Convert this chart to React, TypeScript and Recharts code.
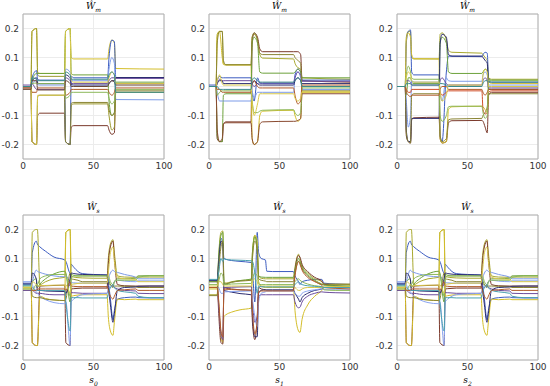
import { LineChart, Line, XAxis, YAxis, CartesianGrid, ReferenceArea } from 'recharts'

const xTicks = [0, 50, 100]
const yTicks = [-0.2, -0.1, 0, 0.1, 0.2]

// x breakpoints per panel
const xWm0 = [0, 5.6, 6.4, 9.6, 10.4, 12, 29.4, 30.2, 33.4, 34.2, 36, 60, 61, 63, 64.8, 65.8, 100]
const xWm1 = [0, 5, 5.8, 7.5, 9.4, 10.2, 12, 29.8, 30.6, 32, 34.4, 36, 38, 60, 61, 63, 65, 66, 100]
const xWm2 = [0, 5.8, 6.6, 8, 9.6, 10.4, 12, 29.8, 30.6, 32, 35, 36.5, 39, 60.2, 61, 62.5, 64, 65, 67, 100]
const xWs0 = [0, 5.8, 6.6, 9.4, 10.2, 12, 16, 22, 29.6, 30.4, 33.4, 34.2, 36, 39, 42, 50, 59.6, 60.5, 62, 63.8, 64.8, 67, 72, 80, 81.5, 90, 100]
const xWs1 = [0, 5.8, 6.8, 8.5, 9.8, 10.6, 12, 16, 22, 30, 30.8, 32.5, 34.2, 35.2, 37, 40, 41, 45, 59.8, 61, 63.5, 64.5, 66, 70, 75, 80, 81.5, 90, 100]

const wm0 = [
  [0, 0, 0.19, 0.2, 0.05, 0.045, 0.045, 0.19, 0.2, 0.1, 0.095, 0.095, 0.13, 0.16, 0.15, 0.062, 0.06],
  [-0.005, -0.005, -0.19, -0.2, -0.1, -0.092, -0.092, -0.19, -0.2, -0.14, -0.135, -0.135, -0.15, -0.165, -0.16, 0.01, 0.01],
  [0, 0, 0.19, 0.2, 0.04, 0.035, 0.035, -0.19, -0.2, -0.065, -0.06, -0.06, -0.1, -0.15, -0.14, -0.02, -0.02],
  [0, 0, 0.03, 0.055, 0.025, 0.022, 0.022, -0.19, -0.2, 0.035, 0.03, 0.03, 0.1, 0.16, 0.155, 0.03, 0.03],
  [0, 0, 0.02, 0.045, 0.045, 0.045, 0.045, 0.19, 0.2, 0.045, 0.04, 0.04, -0.05, -0.1, -0.09, 0.015, 0.015],
  [0, 0, 0.01, 0.02, 0.006, 0.005, 0.005, 0.06, 0.05, 0.02, 0.02, 0.02, 0.06, 0.1, 0.08, -0.045, -0.046],
  [0.005, 0.005, 0.01, -0.01, -0.01, -0.01, -0.01, 0.03, 0.02, 0.01, 0.01, 0.01, 0.02, 0.03, 0.03, 0.028, 0.028],
  [0, 0, 0.02, 0.03, 0.012, 0.01, 0.01, 0.04, 0.03, 0.006, 0.005, 0.005, 0.01, 0.02, 0.02, 0.031, 0.031],
  [-0.005, -0.005, -0.02, -0.02, -0.005, -0.005, -0.005, -0.03, -0.02, -0.01, -0.01, -0.01, -0.02, -0.03, -0.02, -0.005, -0.005],
  [0, 0, -0.19, -0.2, -0.035, -0.03, -0.03, -0.19, -0.2, -0.058, -0.055, -0.055, -0.08, -0.1, -0.09, -0.015, -0.015],
  [0, 0, -0.19, -0.2, -0.03, -0.03, -0.03, 0.19, 0.2, 0.02, 0.015, 0.015, 0.03, 0.05, 0.04, 0.01, 0.01],
  [0, 0, 0.01, 0.012, 0.01, 0.01, 0.01, -0.04, -0.03, -0.02, -0.02, -0.02, -0.04, -0.06, -0.05, -0.01, -0.01],
  [-0.01, -0.01, 0.02, 0.02, -0.012, -0.012, -0.012, 0.02, 0.01, 0, 0, 0, 0.01, 0.02, 0.015, 0.005, 0.005],
  [0, 0, 0.03, 0.025, 0.02, 0.02, 0.02, 0.05, 0.04, 0.025, 0.025, 0.025, 0.04, 0.05, 0.04, -0.02, -0.02],
]
const wm0Colors = ['#d4be2a', '#7b3a2c', '#9c9a2e', '#3c5cc0', '#6da23c', '#7d9be8', '#6c4d9c', '#2c2c70', '#b05a2a', '#8a8434', '#d8c84a', '#8cb85a', '#6a4a3a', '#3a8a8a']

const wm1 = [
  [0, 0, 0.18, 0.19, 0.19, 0.08, 0.075, 0.075, 0.17, 0.18, 0.16, 0.11, 0.098, 0.095, 0.08, 0.065, 0.06, 0.03, 0.025],
  [0, 0, -0.18, -0.19, -0.19, -0.13, -0.122, -0.122, 0.15, 0.185, 0.17, 0.13, 0.12, 0.12, 0.12, 0.12, 0.11, 0.02, 0.015],
  [0, 0, 0.17, 0.19, 0.1, 0.076, 0.074, 0.074, -0.18, -0.2, -0.19, -0.1, -0.085, -0.082, -0.1, -0.12, -0.11, -0.02, -0.02],
  [0.005, 0.005, 0.02, 0.035, 0.03, 0.03, 0.03, 0.03, -0.02, -0.05, 0.03, 0.012, 0.01, 0.01, 0.04, 0.06, 0.05, 0.022, 0.022],
  [0, 0, -0.17, -0.19, -0.19, -0.03, -0.025, -0.025, 0.15, 0.17, 0.15, 0.05, 0.046, 0.046, 0.05, 0.06, 0.05, 0.03, 0.03],
  [0, 0, -0.02, -0.05, -0.05, -0.05, -0.05, -0.05, -0.02, -0.04, -0.02, -0.02, -0.02, -0.02, 0.03, 0.05, 0.03, -0.01, -0.01],
  [0, 0, 0.01, 0.025, 0.02, 0.02, 0.02, 0.02, 0.01, 0, 0.01, 0.012, 0.012, 0.012, 0.03, 0.05, 0.04, 0.018, 0.018],
  [0, 0, 0.01, 0.02, 0.02, 0.01, 0.01, 0.01, 0.01, 0.02, 0.01, 0.005, 0.005, 0.005, 0.02, 0.03, 0.02, 0.01, 0.01],
  [0, 0, -0.15, -0.19, -0.18, -0.13, -0.125, -0.125, -0.18, -0.2, -0.19, -0.13, -0.122, -0.12, -0.12, -0.117, -0.11, -0.025, -0.025],
  [0, 0, 0.15, 0.19, 0.19, 0.09, 0.075, 0.075, 0.17, 0.185, 0.16, 0.115, 0.11, 0.11, 0.1, 0.09, 0.08, -0.015, -0.015],
  [0, 0, -0.03, -0.02, -0.015, -0.015, -0.015, -0.015, -0.05, -0.09, -0.09, -0.085, -0.082, -0.08, -0.09, -0.1, -0.09, -0.005, -0.005],
  [0, 0, -0.01, -0.01, -0.02, -0.02, -0.02, -0.02, 0.01, 0.02, 0, -0.005, -0.005, -0.005, -0.03, -0.06, -0.05, 0.005, 0.005],
  [0, 0, 0.02, 0.04, 0.01, 0.005, 0.005, 0.005, -0.05, -0.1, -0.06, -0.025, -0.025, -0.025, -0.04, -0.05, -0.04, -0.018, -0.018],
  [0, 0, 0, -0.01, -0.01, -0.01, -0.01, -0.01, 0.02, 0.03, 0.02, 0.015, 0.015, 0.015, 0.02, 0.03, 0.02, 0, 0],
]
const wm1Colors = ['#a8a82e', '#7b3a2c', '#d4be2a', '#3c5cc0', '#6da23c', '#7d9be8', '#6c4d9c', '#2c2c70', '#8a4a30', '#8a8434', '#8cb85a', '#b05a2a', '#d8c84a', '#3a8a8a']

const wm2 = [
  [0, 0, 0.17, 0.19, 0.19, 0.1, 0.095, 0.095, 0.18, 0.185, 0.16, 0.125, 0.118, 0.115, 0.11, 0.1, 0.09, 0.03, 0.025, 0.025],
  [0, 0, -0.17, -0.19, -0.195, -0.115, -0.108, -0.106, -0.18, -0.195, -0.19, -0.125, -0.118, -0.117, -0.12, -0.14, -0.16, -0.03, -0.02, -0.02],
  [0, 0, 0.15, 0.19, 0.195, 0.05, 0.04, 0.04, -0.17, -0.19, 0.05, 0.105, 0.104, 0.103, 0.11, 0.118, 0.115, 0.02, 0.015, 0.015],
  [0, 0, 0.16, 0.185, 0.17, 0.11, 0.096, 0.095, -0.18, -0.195, -0.19, -0.08, -0.07, -0.068, -0.07, -0.08, -0.09, 0.015, 0.01, 0.01],
  [0, 0, -0.03, 0.03, 0.03, 0.015, 0.01, 0.01, 0.15, 0.17, 0.15, 0.05, 0.045, 0.045, 0.05, 0.06, 0.055, 0.025, 0.022, 0.022],
  [0, 0, -0.05, -0.14, -0.1, 0.02, 0.015, 0.015, -0.02, -0.05, 0.03, 0.02, 0.018, 0.018, 0.04, 0.05, 0.04, 0.005, 0.005, 0.005],
  [0, 0, 0.02, 0.02, 0.015, 0.005, 0.005, 0.005, 0.02, 0.03, 0.01, 0.005, 0.005, 0.005, 0.02, 0.03, 0.02, -0.005, -0.005, -0.005],
  [0, 0, -0.15, -0.19, -0.19, -0.11, -0.11, -0.11, 0.15, 0.18, 0.17, 0.11, 0.105, 0.105, 0.1, 0.09, 0.08, -0.01, -0.01, -0.01],
  [0, 0, -0.01, -0.02, -0.02, -0.01, -0.01, -0.01, -0.02, -0.03, -0.02, -0.015, -0.015, -0.015, -0.08, -0.095, -0.09, -0.02, -0.015, -0.015],
  [0, 0, -0.16, -0.19, -0.195, -0.03, -0.025, -0.025, -0.17, -0.19, -0.18, -0.115, -0.112, -0.11, -0.1, -0.09, -0.07, -0.025, -0.025, -0.025],
  [0, 0, 0.04, 0.07, 0.05, 0.03, 0.025, 0.025, -0.1, -0.12, -0.1, -0.07, -0.068, -0.068, -0.09, -0.11, -0.1, 0.02, 0.02, 0.02],
  [0, 0, -0.02, -0.03, -0.035, -0.03, -0.03, -0.03, -0.01, 0, 0, -0.01, -0.01, -0.01, -0.02, -0.03, -0.02, -0.01, -0.01, -0.01],
  [0, 0, 0.03, 0.05, 0.04, 0.02, 0.015, 0.015, -0.02, -0.05, -0.03, 0.005, 0.005, 0.005, 0.04, 0.06, 0.05, 0, 0, 0],
  [0, 0, 0.01, 0.01, 0.01, 0.005, 0.005, 0.005, 0.01, 0.01, 0.005, 0, 0, 0, 0.01, 0.02, 0.02, 0.015, 0.015, 0.015],
]
const wm2Colors = ['#a8a82e', '#7b3a2c', '#3c5cc0', '#d4be2a', '#6da23c', '#7d9be8', '#6c4d9c', '#2c2c70', '#d0502a', '#8a8434', '#8cb85a', '#b05a2a', '#d8c84a', '#3a8a8a']

const ws0 = [
  [0.015, 0.015, 0.12, 0.16, 0.15, 0.14, 0.125, 0.105, 0.095, 0.09, 0.05, 0.08, 0.07, 0.055, 0.048, 0.045, 0.043, 0.02, -0.04, -0.11, -0.08, -0.04, -0.035, -0.033, -0.035, -0.036, -0.036],
  [-0.01, -0.01, 0.19, 0.2, 0.2, 0.01, 0.02, 0.03, 0.035, 0.19, 0.2, 0.04, 0.036, 0.034, 0.033, 0.032, 0.032, 0.1, 0.15, 0.165, 0.12, 0.04, 0.036, 0.035, 0.036, 0.036, 0.036],
  [0, 0, -0.19, -0.2, -0.2, 0.005, 0.006, 0.007, 0.008, -0.19, -0.2, -0.005, -0.004, -0.003, -0.002, -0.002, -0.002, 0.08, 0.14, 0.16, 0.1, 0.01, 0.006, 0.005, 0.005, 0.005, 0.005],
  [-0.005, -0.005, -0.19, -0.2, -0.2, -0.03, -0.038, -0.043, -0.045, 0.19, 0.2, -0.03, -0.028, -0.026, -0.025, -0.025, -0.025, -0.1, -0.15, -0.165, -0.12, -0.04, -0.042, -0.04, -0.042, -0.042, -0.042],
  [0.005, 0.005, 0.02, 0.03, 0, 0.012, 0.03, 0.047, 0.056, 0.05, -0.05, 0.045, 0.042, 0.04, 0.04, 0.04, 0.04, 0.03, 0.01, 0, 0.02, 0.03, 0.03, 0.032, 0.04, 0.041, 0.041],
  [0.01, 0.01, 0.02, 0.06, 0.056, 0.052, 0.046, 0.04, 0.037, 0.04, 0.02, 0.018, 0.016, 0.015, 0.015, 0.015, 0.015, 0.03, 0.05, 0.06, 0.055, 0.052, 0.045, 0.035, 0.03, 0.03, 0.03],
  [-0.01, -0.01, -0.01, -0.02, -0.02, -0.02, -0.023, -0.025, -0.025, -0.02, 0.01, -0.018, -0.018, -0.019, -0.02, -0.02, -0.02, -0.01, 0, 0.005, 0, -0.005, -0.01, -0.012, -0.02, -0.021, -0.021],
  [0.02, 0.02, 0.01, -0.015, -0.02, -0.03, -0.042, -0.052, -0.056, -0.05, -0.2, -0.05, -0.04, -0.03, -0.025, -0.022, -0.02, -0.01, 0, 0.01, 0.02, 0.025, 0.022, 0.02, 0.023, 0.023, 0.023],
  [0, 0, -0.03, -0.035, -0.035, -0.035, -0.04, -0.043, -0.045, -0.04, 0.05, 0.03, 0.028, 0.025, 0.02, 0.02, 0.02, 0.015, 0.01, 0.005, 0.005, 0.005, 0.004, 0.003, 0, 0, 0],
  [0.012, 0.012, 0.05, 0.03, -0.01, -0.01, -0.012, -0.013, -0.014, -0.02, 0.03, 0.05, 0.048, 0.046, 0.045, 0.044, 0.043, 0, -0.06, -0.12, -0.09, -0.01, 0, 0.002, 0.004, 0.005, 0.005],
  [-0.005, -0.005, -0.01, 0.01, 0.01, 0.03, 0.04, 0.045, 0.045, 0.045, -0.03, 0.03, 0.04, 0.04, 0.04, 0.04, 0.04, 0.04, 0.02, 0.01, 0.02, 0.025, 0.025, 0.025, 0.035, 0.04, 0.04],
  [0.008, 0.008, 0, -0.01, -0.01, -0.01, -0.01, -0.01, -0.01, -0.05, -0.15, -0.035, -0.035, -0.035, -0.036, -0.036, -0.036, -0.02, 0, 0.01, 0, -0.01, -0.015, -0.02, -0.03, -0.035, -0.035],
  [0, 0, -0.01, -0.01, -0.005, -0.005, -0.005, -0.005, -0.005, -0.01, 0.02, 0.005, 0.004, 0.003, 0.003, 0.003, 0.003, -0.01, -0.03, -0.04, -0.03, -0.01, -0.008, -0.005, -0.01, -0.01, -0.01],
  [0, 0, 0.02, 0.01, 0.005, 0.006, 0.007, 0.008, 0.008, 0.01, -0.02, 0.01, 0.012, 0.014, 0.015, 0.015, 0.015, 0.05, 0.12, 0.14, 0.09, 0.035, 0.03, 0.028, 0.02, 0.02, 0.02],
]
const ws0Colors = ['#3c5cc0', '#a8a82e', '#7b3a2c', '#d4be2a', '#6da23c', '#7d9be8', '#6c4d9c', '#8aa4f0', '#8a8434', '#2c2c70', '#8cb85a', '#4aa0b0', '#b05a2a', '#d8c84a']

const ws1 = [
  [0.025, 0.025, 0.09, 0.17, 0.15, 0.1, 0.097, 0.093, 0.09, 0.086, 0.06, -0.05, 0.19, 0.12, 0.1, 0.095, 0.056, 0.055, 0.055, 0.04, 0.02, 0.01, 0.02, 0.025, 0.028, 0.028, 0.015, 0.012, 0.01],
  [-0.025, -0.025, 0.1, 0.19, 0.195, 0.02, 0.015, 0.02, 0.024, 0.026, 0.12, 0.18, 0.12, 0.04, 0.032, 0.03, 0.03, 0.03, 0.03, 0.07, 0.115, 0.1, 0.075, 0.05, 0.03, 0.02, 0.01, 0.01, 0.01],
  [-0.005, -0.005, -0.05, -0.17, -0.19, -0.1, -0.094, -0.085, -0.077, -0.071, 0.1, 0.18, 0.16, 0.02, 0.005, 0, 0, 0, 0, -0.08, -0.15, -0.155, -0.11, -0.06, -0.03, -0.01, 0, 0.003, 0.005],
  [0.02, 0.02, -0.08, -0.19, -0.195, 0, -0.002, -0.005, -0.008, -0.01, -0.12, -0.18, -0.1, 0, -0.005, -0.008, -0.01, -0.01, -0.01, 0.06, 0.11, 0.105, 0.08, 0.055, 0.035, 0.022, 0.012, 0.006, 0.003],
  [0.02, 0.02, 0.1, 0.18, 0.19, 0.015, 0.012, 0.018, 0.024, 0.029, 0.12, 0.175, 0.14, 0.04, 0.036, 0.035, 0.035, 0.035, 0.035, 0.06, 0.1, 0.09, 0.07, 0.045, 0.025, 0.012, 0.008, 0.006, 0.005],
  [0.025, 0.025, 0.08, 0.16, 0.15, -0.01, -0.012, -0.016, -0.021, -0.025, -0.1, -0.17, -0.17, -0.02, -0.01, -0.008, -0.008, -0.008, -0.008, -0.02, -0.04, -0.05, -0.035, -0.02, -0.01, -0.005, 0, 0, 0],
  [0, 0, -0.06, -0.16, -0.18, 0, 0, 0.001, 0.002, 0.003, -0.05, -0.12, -0.1, -0.03, -0.025, -0.025, -0.025, -0.025, -0.025, -0.05, -0.07, -0.068, -0.05, -0.03, -0.02, -0.015, -0.016, -0.018, -0.019],
  [0, 0, 0, -0.02, -0.02, -0.015, -0.015, -0.014, -0.013, -0.012, -0.04, -0.1, -0.134, -0.05, -0.02, -0.015, -0.012, -0.012, -0.012, -0.02, -0.03, -0.03, -0.02, -0.012, -0.008, -0.005, -0.006, -0.006, -0.006],
  [-0.028, -0.028, 0.05, 0.14, 0.16, 0.01, 0.012, 0.018, 0.022, 0.025, 0.1, 0.16, 0.13, 0.03, 0.025, 0.022, 0.02, 0.02, 0.02, 0.05, 0.09, 0.085, 0.065, 0.04, 0.022, 0.01, 0.012, 0.012, 0.012],
  [0, 0, -0.04, -0.15, -0.17, -0.005, -0.006, -0.007, -0.008, -0.009, -0.08, -0.16, -0.12, -0.015, -0.012, -0.012, -0.012, -0.012, -0.012, 0.04, 0.09, 0.08, 0.06, 0.035, 0.02, 0.008, 0, -0.003, -0.005],
  [0.01, 0.01, 0.02, 0.05, 0.04, 0.01, 0.01, 0.012, 0.013, 0.014, 0.03, 0.05, 0.04, 0.012, 0.01, 0.01, 0.01, 0.01, 0.01, 0.02, 0.03, 0.025, 0.02, 0.012, 0.006, 0.003, -0.008, -0.01, -0.01],
  [0.005, 0.005, 0.02, 0.02, 0.01, 0.005, 0.005, 0.005, 0.005, 0.005, 0.02, 0.03, 0.02, 0.005, 0.005, 0.005, 0.005, 0.005, 0.005, 0, -0.01, -0.01, -0.005, 0, 0, 0, 0.002, 0.003, 0.003],
  [0.028, 0.028, 0.05, 0.1, 0.09, 0.1, 0.097, 0.095, 0.094, 0.092, 0.09, 0.05, -0.02, 0.005, 0.003, 0.002, 0.002, 0.002, 0.002, 0.01, 0.02, 0.015, 0.01, 0.006, 0.004, 0.002, 0, 0, 0],
]
const ws1Colors = ['#3c5cc0', '#a8a82e', '#d4be2a', '#7b3a2c', '#6da23c', '#2c2c70', '#6c4d9c', '#8aa4f0', '#8a8434', '#b05a2a', '#8cb85a', '#d8c84a', '#4aa0b0']

function toRows(xs: number[], series: number[][]) {
  return xs.map((x, i) => {
    const row: Record<string, number> = { x }
    series.forEach((s, j) => {
      row['l' + j] = s[i]
    })
    return row
  })
}

const PW = 141
const PH = 145
const tickStyle = { fontSize: 9, fill: '#333', fontFamily: 'DejaVu Sans' }

interface PanelProps {
  left: number
  top: number
  xs: number[]
  series: number[][]
  colors: string[]
}

function Panel({ left, top, xs, series, colors }: PanelProps) {
  const data = toRows(xs, series)
  return (
    <div style={{ position: 'absolute', left: left - 30, top: top - 10 }}>
      <LineChart width={PW + 40} height={PH + 30} data={data} margin={{ top: 10, right: 10, bottom: 0, left: 0 }}>
        <CartesianGrid stroke="#ececec" />
        <XAxis dataKey="x" type="number" domain={[0, 100]} ticks={xTicks} axisLine={false} tickLine={false}
          tickSize={3} tickMargin={1} height={20} tick={tickStyle} interval={0} />
        <YAxis type="number" domain={[-0.25, 0.25]} ticks={yTicks} axisLine={false} tickLine={false}
          tickSize={3} tickMargin={1} width={30} tick={tickStyle} interval={0} allowDataOverflow />
        <ReferenceArea x1={0} x2={100} y1={-0.25} y2={0.25} fill="none" stroke="#b0b0b0" strokeWidth={1} />
        {series.map((_, j) => (
          <Line key={j} dataKey={'l' + j} type="monotone" stroke={colors[j]} strokeWidth={1} dot={false} isAnimationActive={false} />
        ))}
      </LineChart>
    </div>
  )
}

function Label({ cx, top, main, sub }: { cx: number; top: number; main: string; sub: string }) {
  return (
    <div style={{ position: 'absolute', left: cx - 30, width: 60, top, textAlign: 'center', fontFamily: 'DejaVu Serif', fontStyle: 'italic', fontSize: 9, lineHeight: '12px', color: '#000' }}>
      {main}<span style={{ fontSize: 6, verticalAlign: 'sub', lineHeight: 0 }}>{sub}</span>
    </div>
  )
}

export default function App() {
  const lefts = [23, 209, 397]
  return (
    <div style={{ position: 'absolute', left: 0, top: 0, width: 550, height: 386, background: '#fff', overflow: 'hidden' }}>
      <Panel left={lefts[0]} top={14} xs={xWm0} series={wm0} colors={wm0Colors} />
      <Panel left={lefts[1]} top={14} xs={xWm1} series={wm1} colors={wm1Colors} />
      <Panel left={lefts[2]} top={14} xs={xWm2} series={wm2} colors={wm2Colors} />
      <Panel left={lefts[0]} top={215} xs={xWs0} series={ws0} colors={ws0Colors} />
      <Panel left={lefts[1]} top={215} xs={xWs1} series={ws1} colors={ws1Colors} />
      <Panel left={lefts[2]} top={215} xs={xWs0} series={ws0} colors={ws0Colors} />
      {lefts.map((l, i) => (
        <Label key={'t' + i} cx={l + PW / 2} top={0} main="Ŵ" sub="m" />
      ))}
      {lefts.map((l, i) => (
        <Label key={'b' + i} cx={l + PW / 2} top={201} main="Ŵ" sub="s" />
      ))}
      {lefts.map((l, i) => (
        <Label key={'x' + i} cx={l + PW / 2} top={374} main="s" sub={String(i)} />
      ))}
    </div>
  )
}
